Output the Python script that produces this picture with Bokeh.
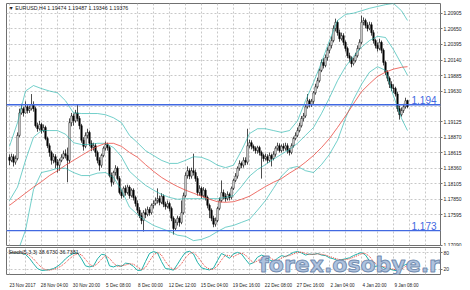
from bokeh.plotting import figure
from bokeh.models import Range1d, FixedTicker, Span, Label, ColumnDataSource, PrintfTickFormatter
from bokeh.layouts import column
from bokeh.embed import file_html
from bokeh.resources import INLINE
import numpy as np

# ---------------- data (EURUSD H4) ----------------
symbol = "EURUSD,H4"
last_ohlc = ["1.19474", "1.19487", "1.19346", "1.19376"]

opens = [
    1.1854, 1.1849, 1.1855, 1.1846, 1.1852, 1.1890, 1.1927, 1.1934, 1.1927, 1.1937,
    1.1931, 1.1934, 1.1941, 1.1934, 1.1906, 1.1901, 1.1908, 1.1898, 1.1903, 1.1885,
    1.1873, 1.1862, 1.1849, 1.1855, 1.1846, 1.1841, 1.1849, 1.1854, 1.1860, 1.1857,
    1.1849, 1.1911, 1.1922, 1.1914, 1.1927, 1.1918, 1.1906, 1.1882, 1.1872, 1.1890,
    1.1895, 1.1877, 1.1870, 1.1873, 1.1862, 1.1849, 1.1841, 1.1857, 1.1869, 1.1875,
    1.1870, 1.1824, 1.1813, 1.1829, 1.1836, 1.1819, 1.1796, 1.1791, 1.1803, 1.1796,
    1.1805, 1.1791, 1.1800, 1.1788, 1.1778, 1.1767, 1.1758, 1.1750, 1.1763, 1.1760,
    1.1768, 1.1763, 1.1775, 1.1778, 1.1783, 1.1786, 1.1780, 1.1790, 1.1777, 1.1773,
    1.1778, 1.1770, 1.1754, 1.1737, 1.1747, 1.1754, 1.1747, 1.1763, 1.1791, 1.1824,
    1.1832, 1.1823, 1.1832, 1.1829, 1.1819, 1.1796, 1.1803, 1.1791, 1.1800, 1.1788,
    1.1775, 1.1767, 1.1754, 1.1744, 1.1750, 1.1770, 1.1783, 1.1796, 1.1790, 1.1786,
    1.1793, 1.1788, 1.1803, 1.1816, 1.1823, 1.1836, 1.1844, 1.1841, 1.1849, 1.1846,
    1.1873, 1.1878, 1.1872, 1.1869, 1.1865, 1.1870, 1.1862, 1.1857, 1.1852, 1.1855,
    1.1849, 1.1857, 1.1852, 1.1859, 1.1869, 1.1873, 1.1865, 1.1872, 1.1869, 1.1873,
    1.1865, 1.1862, 1.1873, 1.1885, 1.1890, 1.1898, 1.1906, 1.1918, 1.1922, 1.1937,
    1.1947, 1.1941, 1.1946, 1.1960, 1.1970, 1.1980, 1.1997, 1.2010, 1.2005, 1.2018,
    1.2030, 1.2038, 1.2046, 1.2066, 1.2076, 1.2059, 1.2049, 1.2054, 1.2043, 1.2033,
    1.2021, 1.2017, 1.2008, 1.2013, 1.2021, 1.2033, 1.2043, 1.2076, 1.2079, 1.2071,
    1.2066, 1.2072, 1.2059, 1.2046, 1.2038, 1.2033, 1.2043, 1.2030, 1.2010, 1.1994,
    1.1984, 1.1974, 1.1968, 1.1967, 1.1958, 1.1934, 1.1924, 1.1931, 1.1937, 1.19474,
]
highs = [
    1.1859, 1.1860, 1.1859, 1.1857, 1.1895, 1.1934, 1.1942, 1.1937, 1.1946, 1.1941,
    1.1939, 1.1958, 1.1946, 1.1937, 1.1911, 1.1914, 1.1911, 1.1908, 1.1906, 1.1888,
    1.1877, 1.1865, 1.1860, 1.1859, 1.1851, 1.1852, 1.1859, 1.1865, 1.1867, 1.1870,
    1.1918, 1.1927, 1.1926, 1.1932, 1.1941, 1.1922, 1.1909, 1.1887, 1.1895, 1.1901,
    1.1898, 1.1882, 1.1878, 1.1877, 1.1865, 1.1854, 1.1860, 1.1872, 1.1880, 1.1878,
    1.1873, 1.1829, 1.1832, 1.1841, 1.1839, 1.1823, 1.1801, 1.1806, 1.1808, 1.1809,
    1.1808, 1.1803, 1.1803, 1.1791, 1.1783, 1.1772, 1.1763, 1.1767, 1.1770, 1.1773,
    1.1772, 1.1778, 1.1783, 1.1788, 1.1803, 1.1791, 1.1795, 1.1793, 1.1781, 1.1783,
    1.1781, 1.1773, 1.1757, 1.1752, 1.1758, 1.1757, 1.1783, 1.1796, 1.1829, 1.1839,
    1.1836, 1.1837, 1.1860, 1.1834, 1.1823, 1.1808, 1.1806, 1.1805, 1.1803, 1.1791,
    1.1778, 1.1770, 1.1758, 1.1755, 1.1773, 1.1788, 1.1816, 1.1801, 1.1795, 1.1798,
    1.1796, 1.1806, 1.1819, 1.1828, 1.1839, 1.1849, 1.1847, 1.1854, 1.1854, 1.1901,
    1.1883, 1.1882, 1.1875, 1.1872, 1.1873, 1.1873, 1.1865, 1.1860, 1.1860, 1.1859,
    1.1862, 1.1860, 1.1864, 1.1872, 1.1878, 1.1877, 1.1875, 1.1877, 1.1878, 1.1877,
    1.1869, 1.1877, 1.1888, 1.1895, 1.1903, 1.1911, 1.1922, 1.1927, 1.1941, 1.1958,
    1.1950, 1.1950, 1.1963, 1.1975, 1.1985, 1.2000, 1.2015, 1.2017, 1.2023, 1.2035,
    1.2043, 1.2053, 1.2071, 1.2082, 1.2079, 1.2064, 1.2059, 1.2058, 1.2046, 1.2036,
    1.2026, 1.2020, 1.2018, 1.2026, 1.2038, 1.2048, 1.2087, 1.2084, 1.2082, 1.2076,
    1.2077, 1.2076, 1.2063, 1.2049, 1.2043, 1.2049, 1.2046, 1.2033, 1.2013, 1.1997,
    1.1987, 1.1979, 1.1974, 1.1970, 1.1962, 1.1939, 1.1936, 1.1942, 1.1952, 1.19487,
]
lows = [
    1.1841, 1.1846, 1.1839, 1.1842, 1.1849, 1.1887, 1.1924, 1.1921, 1.1926, 1.1926,
    1.1927, 1.1931, 1.1929, 1.1903, 1.1896, 1.1898, 1.1893, 1.1895, 1.1882, 1.1869,
    1.1855, 1.1842, 1.1844, 1.1836, 1.1829, 1.1832, 1.1846, 1.1851, 1.1852, 1.1813,
    1.1844, 1.1905, 1.1906, 1.1911, 1.1913, 1.1900, 1.1878, 1.1865, 1.1869, 1.1885,
    1.1872, 1.1864, 1.1865, 1.1855, 1.1844, 1.1832, 1.1837, 1.1854, 1.1865, 1.1865,
    1.1821, 1.1806, 1.1809, 1.1824, 1.1816, 1.1793, 1.1786, 1.1788, 1.1791, 1.1793,
    1.1786, 1.1788, 1.1783, 1.1773, 1.1762, 1.1754, 1.1744, 1.1732, 1.1754, 1.1757,
    1.1758, 1.1760, 1.1770, 1.1775, 1.1778, 1.1775, 1.1777, 1.1772, 1.1768, 1.1770,
    1.1765, 1.1749, 1.1727, 1.1734, 1.1742, 1.1740, 1.1744, 1.1760, 1.1788, 1.1819,
    1.1818, 1.1819, 1.1824, 1.1814, 1.1791, 1.1791, 1.1786, 1.1788, 1.1783, 1.1770,
    1.1754, 1.1749, 1.1739, 1.1740, 1.1747, 1.1767, 1.1780, 1.1785, 1.1781, 1.1783,
    1.1783, 1.1785, 1.1800, 1.1813, 1.1819, 1.1832, 1.1836, 1.1837, 1.1841, 1.1842,
    1.1869, 1.1867, 1.1864, 1.1860, 1.1860, 1.1857, 1.1819, 1.1847, 1.1849, 1.1844,
    1.1846, 1.1839, 1.1849, 1.1855, 1.1865, 1.1862, 1.1862, 1.1864, 1.1865, 1.1860,
    1.1857, 1.1859, 1.1870, 1.1882, 1.1887, 1.1895, 1.1903, 1.1913, 1.1919, 1.1934,
    1.1936, 1.1937, 1.1942, 1.1957, 1.1967, 1.1977, 1.1994, 1.2000, 1.2002, 1.2013,
    1.2025, 1.2033, 1.2043, 1.2061, 1.2054, 1.2044, 1.2046, 1.2038, 1.2028, 1.2017,
    1.2010, 1.2002, 1.2005, 1.2010, 1.2018, 1.2030, 1.2040, 1.2071, 1.2066, 1.2061,
    1.2063, 1.2054, 1.2041, 1.2033, 1.2028, 1.2030, 1.2025, 1.2005, 1.1989, 1.1979,
    1.1968, 1.1963, 1.1960, 1.1954, 1.1929, 1.1916, 1.1921, 1.1927, 1.1934, 1.19346,
]
closes = [
    1.1849, 1.1855, 1.1846, 1.1852, 1.1890, 1.1927, 1.1934, 1.1927, 1.1937, 1.1931,
    1.1934, 1.1941, 1.1934, 1.1906, 1.1901, 1.1908, 1.1898, 1.1903, 1.1885, 1.1873,
    1.1862, 1.1849, 1.1855, 1.1846, 1.1841, 1.1849, 1.1854, 1.1860, 1.1857, 1.1849,
    1.1911, 1.1922, 1.1914, 1.1927, 1.1918, 1.1906, 1.1882, 1.1872, 1.1890, 1.1895,
    1.1877, 1.1870, 1.1873, 1.1862, 1.1849, 1.1841, 1.1857, 1.1869, 1.1875, 1.1870,
    1.1824, 1.1813, 1.1829, 1.1836, 1.1819, 1.1796, 1.1791, 1.1803, 1.1796, 1.1805,
    1.1791, 1.1800, 1.1788, 1.1778, 1.1767, 1.1758, 1.1750, 1.1763, 1.1760, 1.1768,
    1.1763, 1.1775, 1.1778, 1.1783, 1.1786, 1.1780, 1.1790, 1.1777, 1.1773, 1.1778,
    1.1770, 1.1754, 1.1737, 1.1747, 1.1754, 1.1747, 1.1763, 1.1791, 1.1824, 1.1832,
    1.1823, 1.1832, 1.1829, 1.1819, 1.1796, 1.1803, 1.1791, 1.1800, 1.1788, 1.1775,
    1.1767, 1.1754, 1.1744, 1.1750, 1.1770, 1.1783, 1.1796, 1.1790, 1.1786, 1.1793,
    1.1788, 1.1803, 1.1816, 1.1823, 1.1836, 1.1844, 1.1841, 1.1849, 1.1846, 1.1873,
    1.1878, 1.1872, 1.1869, 1.1865, 1.1870, 1.1862, 1.1857, 1.1852, 1.1855, 1.1849,
    1.1857, 1.1852, 1.1859, 1.1869, 1.1873, 1.1865, 1.1872, 1.1869, 1.1873, 1.1865,
    1.1862, 1.1873, 1.1885, 1.1890, 1.1898, 1.1906, 1.1918, 1.1922, 1.1937, 1.1947,
    1.1941, 1.1946, 1.1960, 1.1970, 1.1980, 1.1997, 1.2010, 1.2005, 1.2018, 1.2030,
    1.2038, 1.2046, 1.2066, 1.2076, 1.2059, 1.2049, 1.2054, 1.2043, 1.2033, 1.2021,
    1.2017, 1.2008, 1.2013, 1.2021, 1.2033, 1.2043, 1.2076, 1.2079, 1.2071, 1.2066,
    1.2072, 1.2059, 1.2046, 1.2038, 1.2033, 1.2043, 1.2030, 1.2010, 1.1994, 1.1984,
    1.1974, 1.1968, 1.1967, 1.1958, 1.1934, 1.1924, 1.1931, 1.1937, 1.1947, 1.19376,
]

# indicator lines (every 4th bar)
band_bars = list(range(0, 197, 4)) + [199]
bb_upper = [
    1.1872, 1.1911, 1.1963, 1.1972, 1.1967, 1.1963, 1.1960, 1.1947, 1.1927, 1.1926,
    1.1926, 1.1926, 1.1924, 1.1919, 1.1911, 1.1890, 1.1878, 1.1865, 1.1857, 1.1849,
    1.1844, 1.1844, 1.1849, 1.1855, 1.1854, 1.1849, 1.1841, 1.1837, 1.1841, 1.1865,
    1.1893, 1.1901, 1.1901, 1.1898, 1.1895, 1.1898, 1.1914, 1.1947, 1.1977, 1.2010,
    1.2046, 1.2079, 1.2089, 1.2091, 1.2095, 1.2099, 1.2102, 1.2105, 1.2107, 1.2095, 1.2079,
]
bb_middle = [
    1.1783, 1.1805, 1.1849, 1.1887, 1.1898, 1.1898, 1.1898, 1.1892, 1.1878, 1.1875,
    1.1875, 1.1877, 1.1877, 1.1870, 1.1855, 1.1831, 1.1819, 1.1808, 1.1800, 1.1793,
    1.1788, 1.1785, 1.1786, 1.1786, 1.1786, 1.1786, 1.1786, 1.1788, 1.1791, 1.1806,
    1.1823, 1.1834, 1.1842, 1.1851, 1.1859, 1.1867, 1.1877, 1.1890, 1.1903, 1.1926,
    1.1952, 1.1980, 1.2003, 1.2020, 1.2035, 1.2046, 1.2053, 1.2051, 1.2031, 1.2007, 1.1989,
]
bb_lower = [
    1.1694, 1.1698, 1.1734, 1.1801, 1.1829, 1.1832, 1.1836, 1.1836, 1.1829, 1.1824,
    1.1824, 1.1828, 1.1829, 1.1821, 1.1800, 1.1772, 1.1760, 1.1750, 1.1742, 1.1737,
    1.1732, 1.1726, 1.1724, 1.1717, 1.1719, 1.1724, 1.1732, 1.1739, 1.1742, 1.1747,
    1.1752, 1.1767, 1.1783, 1.1803, 1.1823, 1.1836, 1.1839, 1.1832, 1.1829, 1.1842,
    1.1859, 1.1882, 1.1918, 1.1949, 1.1974, 1.1994, 1.2003, 1.1997, 1.1955, 1.1918, 1.1898,
]
ma_red = [
    1.1775, 1.1785, 1.1795, 1.1805, 1.1814, 1.1824, 1.1832, 1.1841, 1.1849, 1.1857,
    1.1865, 1.1872, 1.1877, 1.1877, 1.1872, 1.1862, 1.1854, 1.1842, 1.1831, 1.1821,
    1.1813, 1.1806, 1.1800, 1.1795, 1.1790, 1.1785, 1.1781, 1.1780, 1.1781, 1.1785,
    1.1790, 1.1798, 1.1806, 1.1813, 1.1819, 1.1828, 1.1836, 1.1846, 1.1857, 1.1870,
    1.1885, 1.1903, 1.1922, 1.1942, 1.1962, 1.1975, 1.1987, 1.1994, 1.1999, 1.2002, 1.2003,
]

# Stochastic (5,3,3) (every 2nd bar)
stoch_bars = list(range(0, 199, 2)) + [199]
stoch_main = [
    82, 80, 80, 79, 74, 60, 40, 22, 15, 16,
    18, 22, 30, 42, 58, 70, 78, 80, 58, 32,
    28, 32, 58, 75, 72, 32, 28, 34, 30, 42,
    40, 30, 15, 16, 48, 78, 85, 80, 48, 22,
    20, 16, 38, 62, 82, 86, 76, 45, 25, 20,
    17, 24, 52, 78, 70, 60, 76, 82, 76, 56,
    38, 44, 64, 72, 66, 54, 48, 60, 70, 66,
    74, 82, 85, 80, 72, 76, 74, 78, 72, 70,
    62, 58, 52, 55, 58, 62, 70, 76, 82, 72,
    50, 28, 32, 30, 22, 20, 16, 14, 28, 37, 38.673,
]
stoch_signal = [
    80, 81, 80, 80, 78, 71, 58, 41, 26, 18,
    16, 19, 24, 32, 44, 58, 70, 77, 73, 56,
    38, 30, 40, 57, 70, 60, 42, 30, 32, 35,
    40, 38, 28, 18, 26, 50, 72, 82, 72, 48,
    28, 19, 24, 40, 62, 78, 82, 68, 46, 28,
    20, 19, 32, 54, 72, 70, 66, 74, 80, 72,
    56, 44, 50, 62, 68, 64, 54, 52, 60, 68,
    70, 76, 82, 83, 78, 74, 75, 76, 75, 72,
    67, 62, 57, 54, 55, 58, 64, 70, 77, 78,
    67, 48, 35, 30, 28, 23, 19, 17, 19, 30, 36.738,
]
stoch_title = "Stoch(5,3,3) 38.6730 36.7381"

level_prices = [1.19403, 1.17335]
level_names = ["1.194", "1.173"]
level_tags = ["1.19403", "1.17335"]

price_ticks = [1.17090, 1.17595, 1.17850, 1.18105, 1.18360, 1.18615, 1.18870,
               1.19125, 1.19630, 1.19885, 1.20140, 1.20395, 1.20650, 1.20905]
hidden_ticks = [1.17340, 1.19380]
stoch_levels = [20, 80]

date_bars = list(range(0, 193, 16))
date_labels = ["23 Nov 2017", "28 Nov 04:00", "30 Nov 20:00", "5 Dec 08:00",
               "8 Dec 00:00", "12 Dec 12:00", "15 Dec 04:00", "19 Dec 16:00",
               "22 Dec 08:00", "27 Dec 16:00", "2 Jan 04:00", "4 Jan 20:00",
               "9 Jan 08:00"]
grid_bars = list(range(0, 216, 8))
watermark = "forex.osobye.ru"

# ---------------- styling ----------------
FONT = "Liberation Sans"
GRID = "#c8c8c8"
FRAME = "#707070"
BLUE = "#4169e1"
TEAL = "#20b2aa"
RED = "#e8433a"
TXT = "#222222"

x_range = Range1d(-1.5, 215.5)

# ---------------- main price window ----------------
p1 = figure(width=470, height=246, x_range=x_range, y_range=Range1d(1.17090, 1.21069),
            x_axis_location=None, y_axis_location="right", toolbar_location=None,
            output_backend="svg", title=None,
            min_border_left=6, min_border_right=30, min_border_top=3, min_border_bottom=1)
p1.outline_line_color = FRAME
p1.xgrid.ticker = FixedTicker(ticks=grid_bars)
p1.ygrid.ticker = FixedTicker(ticks=price_ticks + hidden_ticks)
for g in (p1.xgrid, p1.ygrid):
    g.grid_line_color = GRID
    g.grid_line_dash = "2 2"
    g.grid_line_width = 1

ya = p1.yaxis[0]
ya.ticker = FixedTicker(ticks=price_ticks)
ya.formatter = PrintfTickFormatter(format="%.5f")
ya.axis_line_color = None
ya.major_tick_out = 2
ya.major_tick_in = 0
ya.major_tick_line_color = FRAME
ya.minor_tick_line_color = None
ya.major_label_standoff = 1
ya.major_label_text_font = FONT
ya.major_label_text_font_size = "5px"
ya.major_label_text_color = TXT

o = np.array(opens)
c = np.array(closes)
src = ColumnDataSource(dict(
    x=list(range(len(closes))),
    top=np.maximum(o, c), bottom=np.minimum(o, c),
    high=highs, low=lows,
    fill=["white" if cc >= oo else "black" for oo, cc in zip(opens, closes)],
))
p1.segment(x0="x", y0="high", x1="x", y1="low", source=src, line_color="black", line_width=0.7)
p1.vbar(x="x", top="top", bottom="bottom", width=0.75, source=src,
        fill_color="fill", line_color="black", line_width=0.5)

for band in (bb_upper, bb_middle, bb_lower):
    p1.line(band_bars, band, line_color=TEAL, line_width=0.9, line_alpha=0.7)
p1.line(band_bars, ma_red, line_color=RED, line_width=0.9, line_alpha=0.85)

for lp, name, tag in zip(level_prices, level_names, level_tags):
    p1.add_layout(Span(location=lp, dimension="width", line_color=BLUE, line_width=1.4))
    p1.add_layout(Label(x=201, y=lp, text=name, text_font=FONT, text_font_size="10px",
                        text_color=BLUE, text_baseline="bottom", text_align="left", y_offset=1))
    p1.add_layout(Label(x=215.5, y=lp, text=tag, x_offset=1, text_font=FONT,
                        text_font_size="5px", text_color="white", text_baseline="middle",
                        text_align="left", background_fill_color=BLUE))

header = "\u25bc " + symbol + "  " + " ".join(last_ohlc)
p1.add_layout(Label(x=-1.5, y=1.21069, x_offset=2, y_offset=-1, text=header, text_font=FONT,
                    text_font_size="5.3px", text_color=TXT, text_baseline="top"))

# ---------------- stochastic window ----------------
p2 = figure(width=470, height=44, x_range=x_range, y_range=Range1d(0, 100),
            y_axis_location="right", toolbar_location=None, output_backend="svg", title=None,
            min_border_left=6, min_border_right=30, min_border_top=1, min_border_bottom=12)
p2.outline_line_color = FRAME
p2.xgrid.ticker = FixedTicker(ticks=grid_bars)
p2.ygrid.ticker = FixedTicker(ticks=stoch_levels)
for g in (p2.xgrid, p2.ygrid):
    g.grid_line_color = GRID
    g.grid_line_dash = "2 2"
    g.grid_line_width = 1

xa = p2.xaxis[0]
xa.ticker = FixedTicker(ticks=[b + 6.5 for b in date_bars])
xa.major_label_overrides = {b + 6.5: lbl for b, lbl in zip(date_bars, date_labels)}
xa.axis_line_color = None
xa.major_tick_line_color = None
xa.minor_tick_line_color = None
xa.major_label_standoff = 2
xa.major_label_text_font = FONT
xa.major_label_text_font_size = "4.6px"
xa.major_label_text_color = TXT

ya2 = p2.yaxis[0]
ya2.ticker = FixedTicker(ticks=stoch_levels)
ya2.axis_line_color = None
ya2.major_tick_out = 2
ya2.major_tick_in = 0
ya2.major_tick_line_color = FRAME
ya2.minor_tick_line_color = None
ya2.major_label_standoff = 1
ya2.major_label_text_font = FONT
ya2.major_label_text_font_size = "5px"
ya2.major_label_text_color = TXT

p2.line(stoch_bars, stoch_main, line_color=TEAL, line_width=1)
p2.line(stoch_bars, stoch_signal, line_color=RED, line_width=1, line_dash="1 1")

p2.add_layout(Label(x=-1.5, y=100, x_offset=2, y_offset=-1, text=stoch_title, text_font=FONT,
                    text_font_size="5.3px", text_color=TXT, text_baseline="top"))

# watermark, anchored by its right end so it always stays inside the picture
p2.add_layout(Label(x=223, y=82, text=watermark,
                    text_font="DejaVu Sans",
                    text_font_style="bold", text_font_size="22px",
                    text_color="#a6bcdb", text_outline_color="#6c86ab",
                    text_alpha=0.92, text_baseline="top", text_align="right"))

layout = column(p1, p2)
open("out.html", "w").write(file_html(layout, INLINE))
